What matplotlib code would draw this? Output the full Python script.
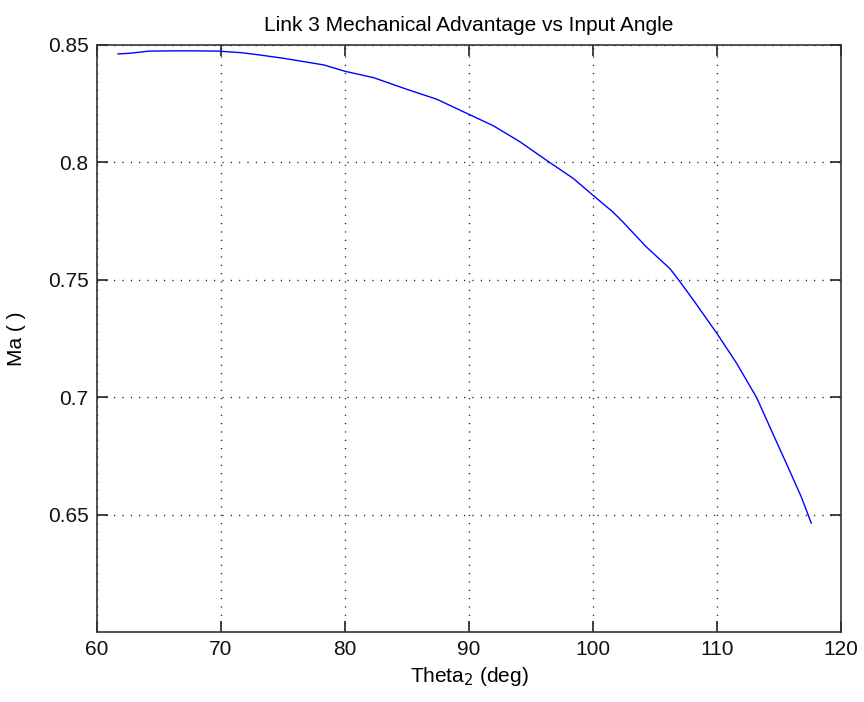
import matplotlib
matplotlib.use('Agg')
import matplotlib.pyplot as plt

# values
theta2 = [61.7, 62.7, 64.2, 66.0, 68.0, 69.8, 71.7, 73.2, 75.1, 76.7, 78.3, 80.0,
          82.3, 85.0, 87.4, 90.1, 92.0, 94.1, 96.5, 98.4, 100.0, 101.6, 102.4,
          104.3, 106.2, 106.9, 108.2, 110.0, 111.6, 113.2, 114.5, 115.6, 116.8, 117.6]
ma = [0.8462, 0.8465, 0.8474, 0.8475, 0.8475, 0.8474, 0.8467, 0.8457, 0.8443, 0.8429,
      0.8415, 0.8388, 0.8361, 0.8311, 0.8269, 0.8202, 0.8155, 0.8088, 0.8000, 0.7932,
      0.7860, 0.7789, 0.7747, 0.7640, 0.7548, 0.7500, 0.7406, 0.7271, 0.7143, 0.6998,
      0.6845, 0.6717, 0.6575, 0.6464]

x_ticks = [60, 70, 80, 90, 100, 110, 120]
y_ticks = [0.65, 0.7, 0.75, 0.8, 0.85]
y_tick_labels = ['0.65', '0.7', '0.75', '0.8', '0.85']

plt.rcParams['font.family'] = ['Liberation Sans', 'DejaVu Sans']
plt.rcParams['font.size'] = 15

fig = plt.figure(figsize=(8.64, 7.02), dpi=100)
ax = fig.add_axes([97 / 864, 1 - 632 / 702, (841 - 97) / 864, (632 - 45) / 702])

ax.plot(theta2, ma, color=(0, 0, 1), linewidth=1.0)

ax.set_xlim(60, 120)
ax.set_ylim(0.6, 0.85)
ax.set_xticks(x_ticks)
ax.set_yticks(y_ticks)
ax.set_yticklabels(y_tick_labels)

# MATLAB-style dotted grid, about 8 px between dots
ax.grid(True, color='black', linestyle=(0, (0.75, 5.25)), linewidth=1.0)
ax.tick_params(direction='in', length=8, width=1.2, top=True, right=True,
               colors='#222222', labelcolor='#111111', pad=6)
for sp in ax.spines.values():
    sp.set_linewidth(1.2)
    sp.set_color('#333333')

ax.set_title('Link 3 Mechanical Advantage vs Input Angle', fontsize=15, pad=10)
ax.set_xlabel('Theta$_2$ (deg)', fontsize=15, labelpad=4)
ax.set_ylabel('Ma ( )', fontsize=15, labelpad=16)

fig.savefig('out.png', dpi=100)
